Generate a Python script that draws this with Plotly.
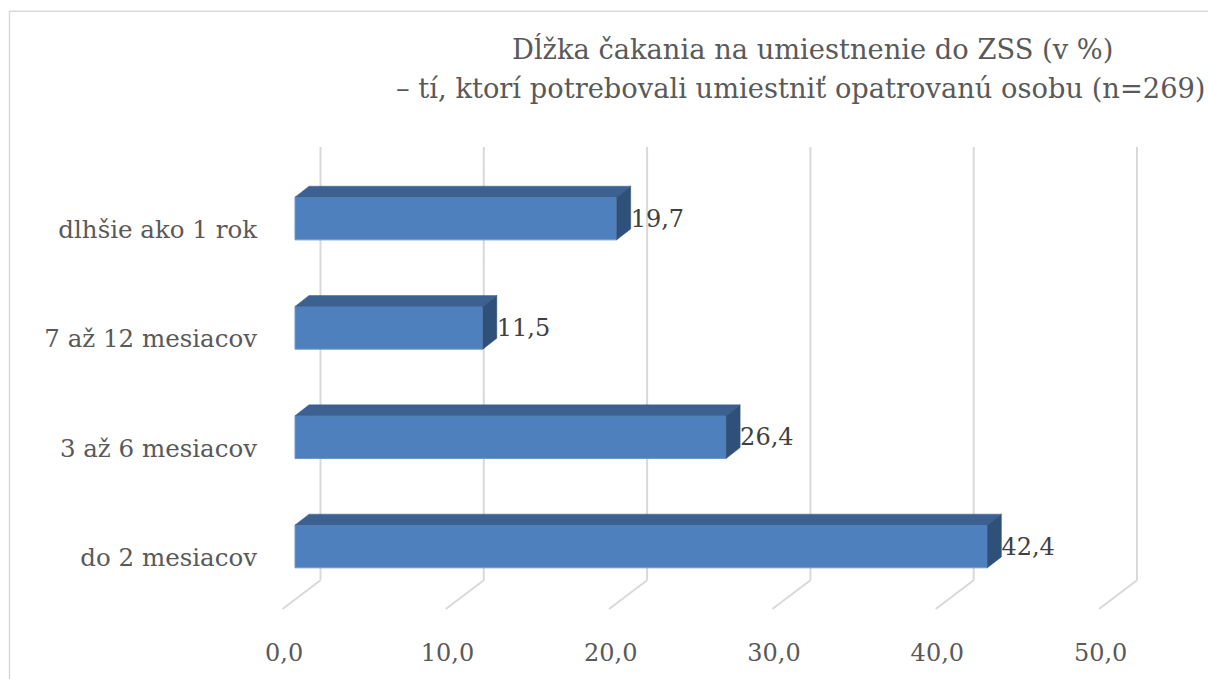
import plotly.graph_objects as go

# ---- data ----
categories = ["do 2 mesiacov", "3 až 6 mesiacov", "7 až 12 mesiacov", "dlhšie ako 1 rok"]
values = [42.4, 26.4, 11.5, 19.7]
x_ticks = [0, 10, 20, 30, 40, 50]
x_tick_labels = ["0,0", "10,0", "20,0", "30,0", "40,0", "50,0"]
title_lines = ["Dĺžka čakania na umiestnenie do ZSS (v %)",
               "– tí, ktorí potrebovali umiestniť opatrovanú osobu (n=269)"]

# ---- layout geometry (pixels, screen coordinates) ----
W, H = 1208, 679
L, R = 270, 1150          # plot area left/right
T, B = 140, 620           # plot area top/bottom
PX_PER_X = 16.33          # pixels per percentage point
PX_PER_Y = 110.0          # pixels per category step
X0_PX = 295               # pixel of value 0 on front face
CAT0_PX = 549             # pixel centre of first category

x_min = -(X0_PX - L) / PX_PER_X
x_max = (R - X0_PX) / PX_PER_X
y_min = -(B - CAT0_PX) / PX_PER_Y
y_max = (CAT0_PX - T) / PX_PER_Y

def py(p):  # pixel row -> y value
    return (CAT0_PX - p) / PX_PER_Y

def paper_x(p):
    return (p - L) / (R - L)

def paper_y(p):
    return (B - p) / (B - T)

half_h = 21.5 / PX_PER_Y
dx = 14 / PX_PER_X
dy = 11 / PX_PER_Y
wall_dx = 25.5 / PX_PER_X
floor_dx = -38 / PX_PER_X

front = "#4e80bd"
top_c = "#3c6190"
side_c = "#2f5179"
grid_c = "#d9d9d9"
FONT = "DejaVu Serif"

fig = go.Figure()

# gridlines: back wall + floor diagonal (shapes below traces)
for v in x_ticks:
    xb = v + wall_dx
    fig.add_shape(type="line", xref="x", yref="y", x0=xb, x1=xb,
                  y0=py(147), y1=py(583), line=dict(color=grid_c, width=2), layer="below")
    fig.add_shape(type="line", xref="x", yref="y", x0=xb, x1=xb + floor_dx,
                  y0=py(583), y1=py(612), line=dict(color=grid_c, width=2), layer="below")

ys = list(range(len(categories)))

# front faces
fig.add_trace(go.Bar(
    x=values, y=ys, orientation="h", width=2 * half_h,
    marker=dict(color=front, line=dict(color="#7097cb", width=1)),
    showlegend=False, hoverinfo="skip"))

# top and side faces
for v, c in zip(values, ys):
    yt = c + half_h
    yb = c - half_h
    fig.add_trace(go.Scatter(
        x=[0, v, v + dx, dx, 0], y=[yt, yt, yt + dy, yt + dy, yt],
        fill="toself", fillcolor=top_c, mode="lines",
        line=dict(color=top_c, width=0.5), hoverinfo="skip", showlegend=False))
    fig.add_trace(go.Scatter(
        x=[v, v + dx, v + dx, v, v], y=[yb, yb + dy, yt + dy, yt, yb],
        fill="toself", fillcolor=side_c, mode="lines",
        line=dict(color=side_c, width=0.5), hoverinfo="skip", showlegend=False))

# data labels
fig.add_trace(go.Scatter(
    x=[v + dx for v in values], y=[c - 0.02 for c in ys], mode="text",
    text=[f"{v:.1f}".replace(".", ",") for v in values],
    textposition="middle right",
    textfont=dict(family=FONT, size=24, color="#404040"),
    hoverinfo="skip", showlegend=False))

fig.update_xaxes(
    range=[x_min, x_max], showgrid=False, zeroline=False, showline=False,
    tickmode="array", tickvals=[v + wall_dx + floor_dx + 0.1 for v in x_ticks],
    ticktext=x_tick_labels, ticks="", ticklabelstandoff=19,
    tickfont=dict(family=FONT, size=24, color="#595959"))
fig.update_yaxes(
    range=[y_min, y_max], showgrid=False, zeroline=False, showline=False,
    tickmode="array", tickvals=[c - 0.1 for c in ys], ticktext=categories,
    ticks="", ticklabelstandoff=12,
    tickfont=dict(family=FONT, size=24.5, color="#595959"))

# chart area border (left and top edges visible)
fig.add_shape(type="rect", xref="paper", yref="paper",
              x0=paper_x(9.5), x1=paper_x(1240), y0=paper_y(700), y1=paper_y(10.5),
              line=dict(color="#d9d9d9", width=1.5), layer="below")

# title, two lines
for txt, cx, cy in zip(title_lines, [812, 801], [48, 88]):
    fig.add_annotation(text=txt, xref="paper", yref="paper",
                       x=paper_x(cx), y=paper_y(cy), xanchor="center", yanchor="middle",
                       showarrow=False,
                       font=dict(family=FONT, size=27.3, color="#595959"))

fig.update_layout(
    width=W, height=H, autosize=False,
    margin=dict(l=L, r=W - R, t=T, b=H - B),
    plot_bgcolor="white", paper_bgcolor="white",
)

fig.write_html(
    "out.html",
    config={"displayModeBar": False, "staticPlot": True},
    post_script="document.body.style.margin='0';document.body.style.overflow='hidden';",
)
